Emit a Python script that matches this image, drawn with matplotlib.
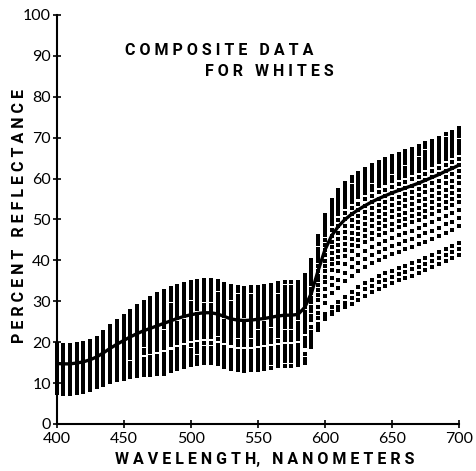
import matplotlib
matplotlib.use("Agg")
import matplotlib.pyplot as plt
import numpy as np

# wavelengths sampled every 5 nm, 400..700
wavelengths = np.arange(400, 705, 5)

# mean reflectance (solid line)
mean_refl = [14.8, 14.7, 14.7, 14.9, 15.2, 15.7, 16.4,
             17.4, 18.5, 19.5, 20.4, 21.3, 22.1, 22.8, 23.4, 24.0,
             24.6, 25.2, 25.8, 26.3, 26.7, 27.0, 27.2, 27.2, 26.9, 26.3, 25.7,
             25.4, 25.3, 25.4, 25.6, 25.8, 26.1, 26.4, 26.6, 26.6, 26.8, 28.5,
             32.0, 37.5, 42.5, 46.0,
             48.3, 50.0, 51.3, 52.4, 53.4, 54.3, 55.1, 55.8, 56.5, 57.1,
             57.7, 58.3, 58.9, 59.6, 60.3, 61.0, 61.8, 62.5, 63.3]

# individual subjects (dotted curves)
refl_01 = [19.5, 19.4, 19.4, 19.6, 19.9, 20.4, 21.1,
           22.4, 23.9, 25.2, 26.4, 27.7, 28.8, 29.8, 30.7, 31.7,
           32.6, 33.2, 33.8, 34.3, 34.7, 35.0, 35.2, 35.2, 34.9, 34.3, 33.7,
           33.4, 33.3, 33.4, 33.6, 33.8, 34.1, 34.4, 34.6, 34.6, 34.8, 36.5,
           40.2, 45.9, 51.1, 54.8,
           57.3, 59.0, 60.3, 61.4, 62.4, 63.3, 64.1, 64.8, 65.5, 66.1,
           66.7, 67.3, 67.9, 68.6, 69.3, 70.0, 70.8, 71.5, 72.3]
refl_02 = [19.0, 18.9, 18.9, 19.1, 19.4, 19.9, 20.6,
           21.9, 23.3, 24.5, 25.7, 26.9, 28.0, 29.0, 29.8, 30.7,
           31.6, 32.2, 32.8, 33.3, 33.7, 34.0, 34.2, 34.2, 33.9, 33.3, 32.7,
           32.4, 32.3, 32.4, 32.6, 32.8, 33.1, 33.4, 33.6, 33.6, 33.8, 35.5,
           39.2, 44.9, 50.1, 53.8,
           56.3, 58.0, 59.3, 60.4, 61.4, 62.3, 63.1, 63.8, 64.5, 65.1,
           65.7, 66.3, 66.9, 67.6, 68.3, 69.0, 69.8, 70.5, 71.3]
refl_03 = [18.5, 18.4, 18.4, 18.6, 18.9, 19.4, 20.1,
           21.3, 22.7, 23.9, 25.0, 26.2, 27.2, 28.1, 28.9, 29.8,
           30.6, 31.2, 31.8, 32.3, 32.7, 33.0, 33.2, 33.2, 32.9, 32.3, 31.7,
           31.4, 31.3, 31.4, 31.6, 31.8, 32.1, 32.4, 32.6, 32.6, 32.8, 34.5,
           38.2, 43.9, 49.1, 52.8,
           55.3, 57.0, 58.3, 59.4, 60.4, 61.3, 62.1, 62.8, 63.5, 64.1,
           64.7, 65.3, 65.9, 66.6, 67.3, 68.0, 68.8, 69.5, 70.3]
refl_04 = [18.0, 17.9, 17.9, 18.1, 18.4, 18.9, 19.6,
           20.8, 22.1, 23.2, 24.3, 25.4, 26.4, 27.3, 28.0, 28.8,
           29.6, 30.2, 30.8, 31.3, 31.7, 32.0, 32.2, 32.2, 31.9, 31.3, 30.7,
           30.4, 30.3, 30.4, 30.6, 30.8, 31.1, 31.4, 31.6, 31.6, 31.8, 33.5,
           37.2, 42.9, 48.1, 51.8,
           54.3, 56.0, 57.3, 58.4, 59.4, 60.3, 61.1, 61.8, 62.5, 63.1,
           63.7, 64.3, 64.9, 65.6, 66.3, 67.0, 67.8, 68.5, 69.3]
refl_05 = [17.4, 17.3, 17.3, 17.5, 17.8, 18.3, 19.0,
           20.1, 21.4, 22.5, 23.6, 24.6, 25.5, 26.4, 27.1, 27.9,
           28.6, 29.2, 29.8, 30.3, 30.7, 31.0, 31.2, 31.2, 30.9, 30.3, 29.7,
           29.4, 29.3, 29.4, 29.6, 29.8, 30.1, 30.4, 30.6, 30.6, 30.8, 32.5,
           36.2, 41.9, 47.1, 50.8,
           53.3, 55.0, 56.3, 57.4, 58.4, 59.3, 60.1, 60.8, 61.5, 62.1,
           62.7, 63.3, 63.9, 64.6, 65.3, 66.0, 66.8, 67.5, 68.3]
refl_06 = [16.8, 16.7, 16.7, 16.9, 17.2, 17.7, 18.4,
           19.5, 20.7, 21.8, 22.8, 23.8, 24.7, 25.5, 26.2, 26.9,
           27.6, 28.2, 28.8, 29.3, 29.7, 30.0, 30.2, 30.2, 29.9, 29.3, 28.7,
           28.4, 28.3, 28.4, 28.6, 28.8, 29.1, 29.4, 29.6, 29.6, 29.8, 31.5,
           35.2, 40.9, 46.1, 49.8,
           52.3, 54.0, 55.3, 56.4, 57.4, 58.3, 59.1, 59.8, 60.5, 61.1,
           61.7, 62.3, 62.9, 63.6, 64.3, 65.0, 65.8, 66.5, 67.3]
refl_07 = [16.2, 16.1, 16.1, 16.3, 16.6, 17.1, 17.8,
           18.9, 20.0, 21.1, 22.0, 23.0, 23.9, 24.6, 25.3, 25.9,
           26.6, 27.2, 27.8, 28.3, 28.7, 29.0, 29.2, 29.2, 28.9, 28.3, 27.7,
           27.4, 27.3, 27.4, 27.6, 27.8, 28.1, 28.4, 28.6, 28.6, 28.8, 30.5,
           34.2, 39.9, 45.1, 48.8,
           51.3, 53.0, 54.3, 55.4, 56.4, 57.3, 58.1, 58.8, 59.5, 60.1,
           60.7, 61.3, 61.9, 62.6, 63.3, 64.0, 64.8, 65.5, 66.3]
refl_08 = [15.6, 15.5, 15.5, 15.7, 16.0, 16.5, 17.2,
           18.2, 19.3, 20.4, 21.3, 22.2, 23.0, 23.7, 24.4, 25.0,
           25.6, 26.2, 26.8, 27.3, 27.7, 28.0, 28.2, 28.2, 27.9, 27.3, 26.7,
           26.4, 26.3, 26.4, 26.6, 26.8, 27.1, 27.4, 27.6, 27.6, 27.8, 29.5,
           33.1, 38.7, 43.8, 47.4,
           49.8, 51.5, 52.8, 53.9, 54.9, 55.8, 56.6, 57.3, 58.0, 58.6,
           59.2, 59.8, 60.4, 61.1, 61.8, 62.5, 63.3, 64.0, 64.8]
refl_09 = [15.0, 14.9, 14.9, 15.1, 15.4, 15.9, 16.6,
           17.6, 18.7, 19.6, 20.5, 21.4, 22.2, 22.9, 23.4, 24.0,
           24.6, 25.2, 25.8, 26.3, 26.7, 27.0, 27.2, 27.2, 26.9, 26.3, 25.7,
           25.4, 25.3, 25.4, 25.6, 25.8, 26.1, 26.4, 26.6, 26.6, 26.8, 28.5,
           32.0, 37.5, 42.5, 46.0,
           48.3, 50.0, 51.3, 52.4, 53.4, 54.3, 55.1, 55.8, 56.5, 57.1,
           57.7, 58.3, 58.9, 59.6, 60.3, 61.0, 61.8, 62.5, 63.3]
refl_10 = [14.3, 14.2, 14.2, 14.4, 14.7, 15.2, 15.9,
           16.8, 17.9, 18.8, 19.7, 20.5, 21.3, 21.9, 22.5, 23.0,
           23.6, 24.2, 24.8, 25.3, 25.7, 26.0, 26.2, 26.2, 25.9, 25.3, 24.7,
           24.4, 24.3, 24.4, 24.6, 24.8, 25.1, 25.4, 25.6, 25.6, 25.8, 27.5,
           30.9, 36.3, 41.2, 44.6,
           46.8, 48.5, 49.8, 50.9, 51.9, 52.8, 53.6, 54.3, 55.0, 55.6,
           56.2, 56.8, 57.4, 58.1, 58.8, 59.5, 60.3, 61.0, 61.8]
refl_11 = [13.6, 13.5, 13.5, 13.7, 14.0, 14.5, 15.2,
           16.1, 17.1, 18.1, 18.9, 19.7, 20.4, 21.0, 21.6, 22.1,
           22.6, 23.2, 23.8, 24.3, 24.7, 25.0, 25.2, 25.2, 24.9, 24.3, 23.7,
           23.4, 23.3, 23.4, 23.6, 23.8, 24.1, 24.4, 24.6, 24.6, 24.8, 26.5,
           29.8, 35.1, 39.9, 43.2,
           45.3, 47.0, 48.3, 49.4, 50.4, 51.3, 52.1, 52.8, 53.5, 54.1,
           54.7, 55.3, 55.9, 56.6, 57.3, 58.0, 58.8, 59.5, 60.3]
refl_12 = [12.8, 12.7, 12.7, 12.9, 13.2, 13.7, 14.4,
           15.3, 16.3, 17.2, 18.0, 18.8, 19.5, 20.1, 20.6, 21.1,
           21.6, 22.2, 22.8, 23.3, 23.7, 24.0, 24.2, 24.2, 23.9, 23.3, 22.7,
           22.4, 22.3, 22.4, 22.6, 22.8, 23.1, 23.4, 23.6, 23.6, 23.8, 25.5,
           28.7, 33.9, 38.6, 41.8,
           43.8, 45.5, 46.8, 47.9, 48.9, 49.8, 50.6, 51.3, 52.0, 52.6,
           53.2, 53.8, 54.4, 55.1, 55.8, 56.5, 57.3, 58.0, 58.8]
refl_13 = [12.0, 11.9, 11.9, 12.1, 12.4, 12.9, 13.6,
           14.5, 15.5, 16.3, 17.1, 17.9, 18.6, 19.2, 19.6, 20.1,
           20.6, 21.2, 21.8, 22.3, 22.7, 23.0, 23.2, 23.2, 22.9, 22.3, 21.7,
           21.4, 21.3, 21.4, 21.6, 21.8, 22.1, 22.4, 22.6, 22.6, 22.8, 24.5,
           27.6, 32.7, 37.3, 40.4,
           42.3, 44.0, 45.3, 46.4, 47.4, 48.3, 49.1, 49.8, 50.5, 51.1,
           51.7, 52.3, 52.9, 53.6, 54.3, 55.0, 55.8, 56.5, 57.3]
refl_14 = [11.2, 11.1, 11.1, 11.3, 11.6, 12.1, 12.8,
           13.7, 14.6, 15.5, 16.2, 17.0, 17.7, 18.2, 18.7, 19.1,
           19.6, 20.2, 20.8, 21.3, 21.7, 22.0, 22.2, 22.2, 21.9, 21.3, 20.7,
           20.4, 20.3, 20.4, 20.6, 20.8, 21.1, 21.4, 21.6, 21.6, 21.8, 23.5,
           26.5, 31.5, 36.0, 39.0,
           40.8, 42.5, 43.8, 44.9, 45.9, 46.8, 47.6, 48.3, 49.0, 49.6,
           50.2, 50.8, 51.4, 52.1, 52.8, 53.5, 54.3, 55.0, 55.8]
refl_15 = [10.4, 10.3, 10.3, 10.5, 10.8, 11.3, 12.0,
           12.8, 13.8, 14.6, 15.4, 16.1, 16.7, 17.3, 17.7, 18.2,
           18.6, 19.2, 19.8, 20.3, 20.7, 21.0, 21.2, 21.2, 20.9, 20.3, 19.7,
           19.4, 19.3, 19.4, 19.6, 19.8, 20.1, 20.4, 20.6, 20.6, 20.8, 22.5,
           25.4, 30.3, 34.7, 37.6,
           39.3, 41.0, 42.3, 43.4, 44.4, 45.3, 46.1, 46.8, 47.5, 48.1,
           48.7, 49.3, 49.9, 50.6, 51.3, 52.0, 52.8, 53.5, 54.3]
refl_16 = [9.8, 9.7, 9.7, 9.9, 10.2, 10.7, 11.4,
           12.1, 13.0, 13.7, 14.4, 15.0, 15.6, 16.0, 16.4, 16.7,
           17.1, 17.7, 18.3, 18.8, 19.2, 19.5, 19.7, 19.7, 19.4, 18.8, 18.2,
           17.9, 17.8, 17.9, 18.1, 18.3, 18.6, 18.9, 19.1, 19.1, 19.3, 21.0,
           23.8, 28.6, 32.9, 35.7,
           37.3, 39.0, 40.3, 41.4, 42.4, 43.3, 44.1, 44.8, 45.5, 46.1,
           46.7, 47.3, 47.9, 48.6, 49.3, 50.0, 50.8, 51.5, 52.3]
refl_17 = [9.2, 9.1, 9.1, 9.3, 9.6, 10.1, 10.8,
           11.5, 12.3, 13.0, 13.6, 14.2, 14.8, 15.2, 15.5, 15.8,
           16.1, 16.7, 17.3, 17.8, 18.2, 18.5, 18.7, 18.7, 18.4, 17.8, 17.2,
           16.9, 16.8, 16.9, 17.1, 17.3, 17.6, 17.9, 18.1, 18.1, 18.3, 20.0,
           22.6, 27.2, 31.3, 33.9,
           35.3, 37.0, 38.3, 39.4, 40.4, 41.3, 42.1, 42.8, 43.5, 44.1,
           44.7, 45.3, 45.9, 46.6, 47.3, 48.0, 48.8, 49.5, 50.3]
refl_18 = [8.6, 8.5, 8.5, 8.7, 9.0, 9.5, 10.2,
           10.9, 11.6, 12.3, 12.9, 13.4, 13.9, 14.3, 14.6, 14.8,
           15.1, 15.7, 16.3, 16.8, 17.2, 17.5, 17.7, 17.7, 17.4, 16.8, 16.2,
           15.9, 15.8, 15.9, 16.1, 16.3, 16.6, 16.9, 17.1, 17.1, 17.3, 19.0,
           21.4, 25.8, 29.7, 32.1,
           33.3, 35.0, 36.3, 37.4, 38.4, 39.3, 40.1, 40.8, 41.5, 42.1,
           42.7, 43.3, 43.9, 44.6, 45.3, 46.0, 46.8, 47.5, 48.3]
refl_19 = [8.2, 8.1, 8.1, 8.3, 8.6, 9.1, 9.8,
           10.4, 11.1, 11.7, 12.2, 12.7, 13.2, 13.5, 13.7, 13.9,
           14.1, 14.7, 15.3, 15.8, 16.2, 16.5, 16.7, 16.7, 16.4, 15.8, 15.2,
           14.9, 14.8, 14.9, 15.1, 15.3, 15.6, 15.9, 16.1, 16.1, 16.3,
           17.0, 20.5, 24.5, 27.0, 28.5, 29.8, 31.0,
           32.3, 33.4, 34.4, 35.3, 36.1, 36.8, 37.5, 38.1, 38.7, 39.3,
           39.9, 40.6, 41.3, 42.0, 42.8, 43.5, 44.3]
refl_20 = [7.8, 7.7, 7.7, 7.9, 8.2, 8.7, 9.4,
           10.0, 10.6, 11.2, 11.7, 12.1, 12.5, 12.8, 13.0, 13.1,
           13.3, 13.9, 14.5, 15.0, 15.4, 15.7, 15.9, 15.9, 15.6, 15.0, 14.4,
           14.1, 14.0, 14.1, 14.3, 14.5, 14.8, 15.1, 15.3, 15.3, 15.5,
           16.0, 19.5, 23.5, 26.2, 27.5, 28.5, 29.6,
           30.8, 31.9, 32.9, 33.8, 34.6, 35.3, 36.0, 36.6, 37.2, 37.8,
           38.4, 39.1, 39.8, 40.5, 41.3, 42.0, 42.8]
refl_21 = [7.5, 7.4, 7.4, 7.6, 7.9, 8.4, 9.1,
           9.6, 10.2, 10.7, 11.1, 11.5, 11.8, 12.0, 12.1, 12.2,
           12.3, 12.9, 13.5, 14.0, 14.4, 14.7, 14.9, 14.9, 14.6, 14.0, 13.4,
           13.1, 13.0, 13.1, 13.3, 13.5, 13.8, 14.1, 14.3, 14.3, 14.5,
           15.0, 18.8, 23.0, 25.7, 27.0, 27.8, 28.6,
           29.3, 30.4, 31.4, 32.3, 33.1, 33.8, 34.5, 35.1, 35.7, 36.3,
           36.9, 37.6, 38.3, 39.0, 39.8, 40.5, 41.3]

subjects = [refl_01, refl_02, refl_03, refl_04, refl_05, refl_06, refl_07,
            refl_08, refl_09, refl_10, refl_11, refl_12, refl_13, refl_14,
            refl_15, refl_16, refl_17, refl_18, refl_19, refl_20, refl_21]

xticks = [400, 450, 500, 550, 600, 650, 700]
yticks = [0, 10, 20, 30, 40, 50, 60, 70, 80, 90, 100]

fig = plt.figure(figsize=(4.76, 4.71), dpi=100)
ax = fig.add_axes([0.1187, 0.0998, 0.8456, 0.8684])

# dotted curves, one per subject
for curve in subjects:
    ax.plot(wavelengths, curve, ls='none', marker='s', ms=2.3, mew=0,
            color='black', clip_on=False)

# mean curve
ax.plot(wavelengths, mean_refl, color='black', lw=2.4, solid_capstyle='round')

ax.set_xlim(400, 700)
ax.set_ylim(0, 100)
ax.set_xticks(xticks)
ax.set_yticks(yticks)

for side in ['top', 'right']:
    ax.spines[side].set_visible(False)
for side in ['left', 'bottom']:
    ax.spines[side].set_linewidth(1.5)

ax.tick_params(direction='inout', length=6, width=1.2, pad=1.0,
               colors='black')
ax.tick_params(axis='x', pad=2.5)
for lab in ax.get_xticklabels() + ax.get_yticklabels():
    lab.set_fontfamily('Lato')
    lab.set_fontweight('normal')
    lab.set_fontsize(11.5)

# title text inside the plot
ax.text(451, 91.4, 'C O M P O S I T E   D A T A', ha='left', va='center',
        fontsize=11.5, fontweight='bold', family='Roboto')
ax.text(510.5, 86.2, 'F O R   W H I T E S', ha='left', va='center',
        fontsize=11.5, fontweight='bold', family='Roboto')

fig.text(0.557, 0.0234, 'W A V E L E N G T H,   N A N O M E T E R S',
         ha='center', va='center', fontsize=11.5, fontweight='bold',
         family='Roboto')
fig.text(0.042, 0.541, 'P E R C E N T   R E F L E C T A N C E',
         ha='center', va='center', rotation=90, fontsize=11.5,
         fontweight='bold', family='Roboto')

plt.savefig('out.png', dpi=100)
